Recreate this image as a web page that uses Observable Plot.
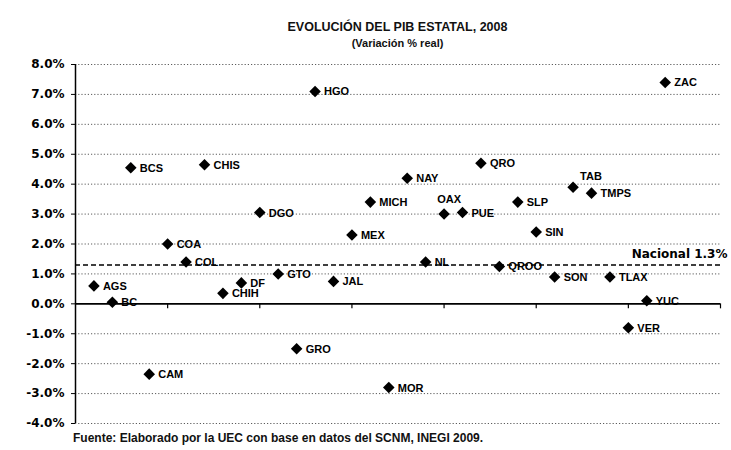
<!DOCTYPE html>
<html>
<head>
<meta charset="utf-8">
<script src="https://cdn.jsdelivr.net/npm/d3@7"></script>
<script src="https://cdn.jsdelivr.net/npm/@observablehq/plot@0.6"></script>
<style>
  html, body { margin: 0; padding: 0; background: #fff; }
  #wrap { width: 731px; height: 450px; position: relative; overflow: hidden; }
  #head { position: relative; height: 50px; }
  #title { position: absolute; left: 75px; width: 645px; top: 20px; text-align: center;
           font: bold 12.5px "Liberation Sans", Arial, sans-serif; color: #111; line-height: 14px; }
  #subtitle { position: absolute; left: 75px; width: 645px; top: 37px; text-align: center;
           font: bold 11px "Liberation Sans", Arial, sans-serif; color: #111; line-height: 13px; }
  #caption { padding-left: 73px; font: bold 12px "Liberation Sans", Arial, sans-serif; color: #111; line-height: 12px; }
</style>
</head>
<body>
<div id="wrap">
  <div id="head">
    <div id="title">EVOLUCIÓN DEL PIB ESTATAL, 2008</div>
    <div id="subtitle">(Variación % real)</div>
  </div>
  <div id="chart"></div>
  <div id="caption">Fuente: Elaborado por la UEC con base en datos del SCNM, INEGI 2009.</div>
</div>
<script>
const estados = ["AGS","BC","BCS","CAM","COA","COL","CHIS","CHIH","DF","DGO","GTO","GRO","HGO","JAL","MEX","MICH","MOR","NAY","NL","OAX","PUE","QRO","QROO","SLP","SIN","SON","TAB","TMPS","TLAX","VER","YUC","ZAC"];
const variacion = [0.6, 0.05, 4.55, -2.35, 2.0, 1.4, 4.65, 0.35, 0.7, 3.05, 1.0, -1.5, 7.1, 0.75, 2.3, 3.4, -2.8, 4.2, 1.4, 3.0, 3.05, 4.7, 1.25, 3.4, 2.4, 0.9, 3.9, 3.7, 0.9, -0.8, 0.1, 7.4];
const nacional = 1.3;
const yTicks = [-4, -3, -2, -1, 0, 1, 2, 3, 4, 5, 6, 7, 8];
const xTicks = [5, 10, 15, 20, 25, 30, 35];

const data = estados.map((e, i) => ({estado: e, pos: i + 1, valor: variacion[i]}));

const above = new Set(["OAX"]);
const aboveRight = new Set(["TAB"]);
const normal = data.filter(d => !above.has(d.estado) && !aboveRight.has(d.estado));

const labelFont = "Liberation Sans, Arial, sans-serif";
const axisFont = "DejaVu Sans, sans-serif";

const chart = Plot.plot({
  width: 731,
  height: 382,
  marginLeft: 75,
  marginRight: 11,
  marginTop: 14,
  marginBottom: 9,
  style: {background: "#fff", color: "#000", fontWeight: "bold"},
  x: {domain: [0, 35], axis: null},
  y: {domain: [-4, 8], label: null},
  marks: [
    Plot.gridY(yTicks.filter(d => d !== 0), {stroke: "#333", strokeOpacity: 0.8, strokeDasharray: "1.2,2"}),
    Plot.axisY(yTicks, {
      label: null,
      tickFormat: d => d.toFixed(1) + "%",
      tickSize: 4, tickPadding: 7,
      fontSize: 12, fontFamily: axisFont, fontWeight: "bold", stroke: "#000"
    }),
    Plot.ruleY([nacional], {stroke: "#000", strokeWidth: 1.4, strokeDasharray: "5,3"}),
    Plot.text([nacional], {
      y: d => d, frameAnchor: "right", textAnchor: "end", dx: 7, dy: -11,
      text: d => `Nacional ${d}%`, fontSize: 12, fontFamily: axisFont, fontWeight: "bold", fill: "#000"
    }),
    Plot.ruleX([0], {stroke: "#000", strokeWidth: 1.5}),
    Plot.ruleY([0], {stroke: "#000", strokeWidth: 1.6}),
    Plot.ruleX(xTicks, {x: d => d, y1: 0, y2: 0, insetBottom: -5, stroke: "#000", strokeWidth: 1.2}),
    Plot.dot(data, {x: "pos", y: "valor", symbol: "diamond2", r: 5.2, fill: "#000", stroke: "none"}),
    Plot.text(normal, {
      x: "pos", y: "valor", text: "estado", textAnchor: "start", dx: 9, dy: 0.5,
      fontSize: 11, fontFamily: labelFont, fontWeight: "bold", fill: "#000"
    }),
    Plot.text(data.filter(d => above.has(d.estado)), {
      x: "pos", y: "valor", text: "estado", textAnchor: "middle", dx: 5, dy: -15,
      fontSize: 11, fontFamily: labelFont, fontWeight: "bold", fill: "#000"
    }),
    Plot.text(data.filter(d => aboveRight.has(d.estado)), {
      x: "pos", y: "valor", text: "estado", textAnchor: "start", dx: 7, dy: -11,
      fontSize: 11, fontFamily: labelFont, fontWeight: "bold", fill: "#000"
    })
  ]
});
document.getElementById("chart").appendChild(chart);
</script>
</body>
</html>
